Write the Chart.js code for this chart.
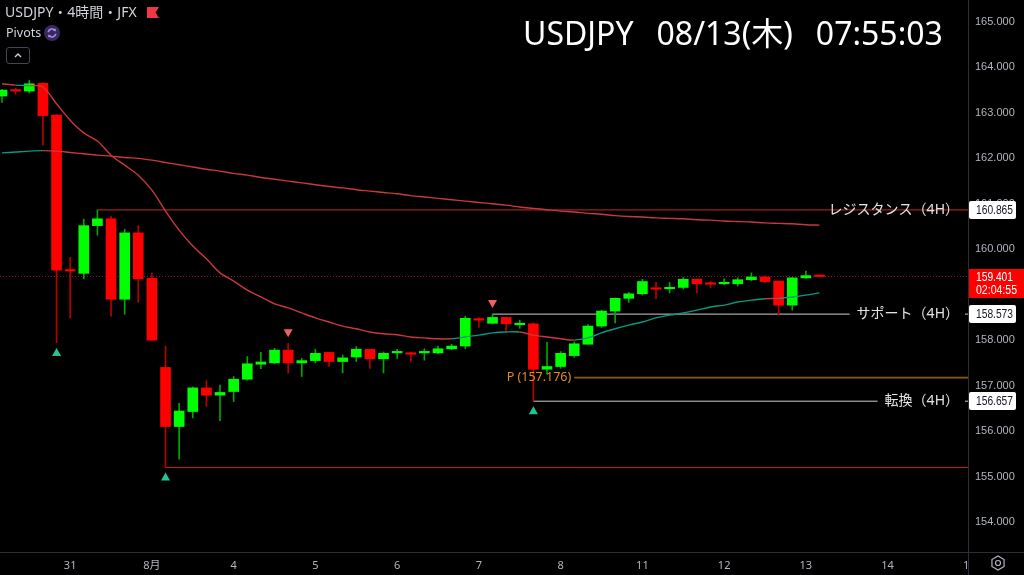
<!DOCTYPE html>
<html lang="ja">
<head>
<meta charset="utf-8">
<title>USDJPY 4時間 JFX</title>
<script src="https://cdn.jsdelivr.net/npm/chart.js@4.4.1/dist/chart.umd.min.js"></script>
<style>
  html, body { margin: 0; padding: 0; background: #000; overflow: hidden; }
  #wrap { position: relative; width: 1024px; height: 575px; }
  #chart { position: absolute; left: 0; top: 0; }
  .hdr { position: absolute; color: #d1d4dc; white-space: nowrap;
         font-family: "Noto Sans", "Noto Sans CJK JP", sans-serif; }
  #sym { left: 5px; top: 2px; font-size: 14px; line-height: 20px; }
  #flag { position: absolute; left: 147px; top: 7px; }
  #piv { left: 6px; top: 24px; font-size: 12.5px; line-height: 18px; }
  #pivIcon { position: absolute; left: 44px; top: 25px; }
  #collapse { position: absolute; left: 6px; top: 47px; width: 24px; height: 17px;
              border: 1px solid #434651; border-radius: 3px; box-sizing: border-box; }
  #title { left: 523px; top: 11px; font-size: 32px; line-height: 44px; color: #fff; }
  #title span + span { margin-left: 23px; }
</style>
</head>
<body>
<div id="wrap">
  <canvas id="chart" width="1024" height="575"></canvas>
  <div class="hdr" id="sym">USDJPY・4時間・JFX</div>
  <svg id="flag" width="12" height="11" viewBox="0 0 12 11"><path d="M0 0 H12 L8.5 5.5 L12 11 H0 Z" fill="#f23645"/></svg>
  <div class="hdr" id="piv">Pivots</div>
  <svg id="pivIcon" width="16" height="16" viewBox="0 0 16 16">
    <circle cx="8" cy="8" r="8" fill="#3a2a5c"/>
    <path d="M4.2 7.2 A4 4 0 0 1 11.2 5.4" stroke="#a98bf5" stroke-width="1.6" fill="none"/>
    <path d="M11.8 8.8 A4 4 0 0 1 4.8 10.6" stroke="#a98bf5" stroke-width="1.6" fill="none"/>
    <path d="M11.9 3.6 L11.6 6.6 L8.9 5.4 Z" fill="#a98bf5"/>
    <path d="M4.1 12.4 L4.4 9.4 L7.1 10.6 Z" fill="#a98bf5"/>
  </svg>
  <div id="collapse"><svg width="22" height="15" viewBox="0 0 22 15"><path d="M8 9 L11 6 L14 9" stroke="#d1d4dc" stroke-width="1.4" fill="none"/></svg></div>
  <div class="hdr" id="title"><span>USDJPY</span><span>08/13(木)</span><span>07:55:03</span></div>
</div>
<script>
// 4H candles, index 0 = first visible bar
const opens  = [163.37, 163.50, 163.48, 163.65, 162.95, 159.55, 159.47, 160.52, 160.67, 158.90,
                160.36, 159.36, 157.40, 156.10, 156.43, 156.95, 156.79, 156.87, 157.14, 157.47,
                157.50, 157.78, 157.50, 157.55, 157.73, 157.53, 157.63, 157.80, 157.59, 157.72,
                157.71, 157.72, 157.72, 157.81, 157.87, 158.47, 158.37, 158.50, 158.34, 158.36,
                157.36, 157.42, 157.66, 157.91, 158.31, 158.64, 158.92, 159.02, 159.15, 159.13,
                159.16, 159.34, 159.25, 159.24, 159.24, 159.33, 159.39, 159.30, 158.77, 159.37,
                159.41];
const highs  = [163.52, 163.54, 163.72, 163.66, 162.96, 159.82, 160.66, 160.865, 160.73, 160.44,
                160.52, 159.48, 157.87, 156.61, 156.97, 157.11, 157.01, 157.20, 157.64, 157.73,
                157.82, 157.93, 157.60, 157.80, 157.73, 157.67, 157.86, 157.80, 157.74, 157.80,
                157.73, 157.81, 157.87, 157.91, 158.53, 158.49, 158.573, 158.51, 158.44, 158.38,
                157.95, 157.75, 157.96, 158.34, 158.66, 158.93, 159.05, 159.34, 159.28, 159.27,
                159.38, 159.34, 159.30, 159.35, 159.37, 159.48, 159.41, 159.30, 159.38, 159.52,
                159.43];
const lows   = [163.23, 163.41, 163.44, 162.29, 157.94, 158.49, 159.35, 160.31, 158.53, 158.57,
                158.83, 157.99, 155.20, 155.38, 156.29, 156.54, 156.23, 156.65, 157.12, 157.37,
                157.48, 157.28, 157.20, 157.50, 157.42, 157.28, 157.53, 157.38, 157.28, 157.60,
                157.53, 157.56, 157.70, 157.79, 157.81, 158.28, 158.36, 158.19, 158.26, 156.657,
                157.25, 157.38, 157.62, 157.91, 158.28, 158.38, 158.83, 158.99, 158.91, 159.04,
                159.12, 159.04, 159.15, 159.22, 159.19, 159.31, 159.26, 158.55, 158.66, 159.36,
                159.39];
const closes = [163.50, 163.48, 163.64, 162.94, 159.54, 159.52, 160.52, 160.67, 158.90, 160.36,
                159.35, 158.00, 156.10, 156.44, 156.95, 156.79, 156.85, 157.14, 157.48, 157.52,
                157.78, 157.50, 157.55, 157.71, 157.53, 157.61, 157.80, 157.59, 157.71, 157.74,
                157.69, 157.73, 157.81, 157.87, 158.48, 158.44, 158.50, 158.36, 158.36, 157.36,
                157.42, 157.71, 157.92, 158.31, 158.64, 158.92, 159.02, 159.29, 159.12, 159.16,
                159.34, 159.24, 159.23, 159.26, 159.33, 159.39, 159.29, 158.77, 159.37, 159.42,
                159.401];

// moving averages
const maShort = [163.64, 163.61, 163.60, 163.57, 163.20, 162.84, 162.56, 162.38, 162.07, 161.85,
                 161.63, 161.30, 160.84, 160.42, 160.07, 159.79, 159.48, 159.30, 159.10, 158.95,
                 158.80, 158.71, 158.60, 158.49, 158.40, 158.31, 158.25, 158.18, 158.14, 158.12,
                 158.07, 158.05, 158.03, 158.03, 158.07, 158.11, 158.16, 158.18, 158.18, 158.11,
                 158.07, 158.03, 158.00, 158.05, 158.16, 158.25, 158.33, 158.40, 158.49, 158.55,
                 158.60, 158.66, 158.73, 158.77, 158.84, 158.88, 158.91, 158.92, 158.95, 158.99,
                 159.04];
const maLong  = [162.12, 162.14, 162.16, 162.17, 162.16, 162.13, 162.10, 162.07, 162.05, 162.02,
                 162.00, 161.96, 161.91, 161.86, 161.81, 161.76, 161.72, 161.67, 161.63, 161.58,
                 161.54, 161.50, 161.46, 161.42, 161.38, 161.35, 161.31, 161.28, 161.25, 161.22,
                 161.18, 161.15, 161.12, 161.09, 161.06, 161.03, 161.00, 160.97, 160.93, 160.90,
                 160.87, 160.84, 160.82, 160.79, 160.77, 160.74, 160.72, 160.71, 160.69, 160.68,
                 160.67, 160.65, 160.64, 160.62, 160.61, 160.60, 160.58, 160.57, 160.56, 160.54,
                 160.53];

// time axis: first bar of each day
const dayLabels = ['31', '8月', '4', '5', '6', '7', '8', '11', '12', '13', '14', '15'];
const dayIdx    = [5, 11, 17, 23, 29, 35, 41, 47, 53, 59, 65, 71];
const priceTicks = [154, 155, 156, 157, 158, 159, 160, 161, 162, 163, 164, 165];

// horizontal levels
const resistance = 160.865, resistanceFrom = 7;
const support = 158.573,    supportFrom = 36;
const pivotP = 157.176,     pivotFrom = 42;
const turn = 156.657,       turnFrom = 39;
const lowLine = 155.20,     lowLineFrom = 12;
const lastPrice = 159.401;
const countdown = '02:04:55';

// fractal markers
const pivotLowIdx  = [4, 12, 39];
const pivotHighIdx = [21, 36];

const X_MIN = -0.15, X_MAX = 70.9;
const Y_MIN = 153.339, Y_MAX = 165.484;

const UP = '#00ff00', DOWN = '#ff0000';
const UP_WICK = '#00a800', DOWN_WICK = '#b80000';
const MA_UP = '#089981', MA_DN = '#c8383c';
const FONT = '"Noto Sans", "Noto Sans CJK JP", sans-serif';
const NUM_FONT = '"Liberation Sans", Arial, sans-serif';

const isUp = i => closes[i] >= opens[i];
const hline = (v, from, color, width, dash) => ({
  type: 'line', data: [{ x: from, y: v }, { x: X_MAX, y: v }],
  borderColor: color, borderWidth: width, borderDash: dash || [],
  pointRadius: 0, order: 3,
});
const maSet = (vals) => ({
  type: 'line',
  data: vals.map((v, i) => ({ x: i, y: v })),
  borderWidth: 1.4, pointRadius: 0, tension: 0.3, order: 0,
  borderColor: MA_DN,
  segment: { borderColor: c => closes[c.p1DataIndex] >= vals[c.p1DataIndex] ? MA_UP : MA_DN },
});

// draw text squeezed to a given width
function fitText(ctx, text, x, y, w) {
  const m = ctx.measureText(text).width;
  ctx.save();
  ctx.translate(x, y);
  ctx.scale(Math.min(1, w / m), 1);
  ctx.fillText(text, 0, 0);
  ctx.restore();
}

const overlay = {
  id: 'overlay',
  afterDraw(chart) {
    const { ctx, chartArea: a, scales: { x, y } } = chart;
    ctx.save();

    // pane separators
    ctx.strokeStyle = '#2a2e39';
    ctx.lineWidth = 1;
    ctx.beginPath();
    ctx.moveTo(0, a.bottom + 0.5); ctx.lineTo(chart.width, a.bottom + 0.5);
    ctx.moveTo(a.right + 0.5, 0); ctx.lineTo(a.right + 0.5, chart.height);
    ctx.stroke();
    // clip the date label that runs under the price scale
    ctx.fillStyle = '#000';
    ctx.fillRect(a.right + 1, a.bottom + 1, chart.width - a.right, chart.height - a.bottom);

    // fractal triangles
    ctx.fillStyle = '#22c493';
    pivotLowIdx.forEach(i => {
      const px = x.getPixelForValue(i), py = y.getPixelForValue(lows[i]) + 9;
      ctx.beginPath(); ctx.moveTo(px, py - 4); ctx.lineTo(px + 4.5, py + 4); ctx.lineTo(px - 4.5, py + 4); ctx.fill();
    });
    ctx.fillStyle = '#f26060';
    pivotHighIdx.forEach(i => {
      const px = x.getPixelForValue(i), py = y.getPixelForValue(highs[i]) - 10;
      ctx.beginPath(); ctx.moveTo(px - 4.5, py - 4); ctx.lineTo(px + 4.5, py - 4); ctx.lineTo(px, py + 4); ctx.fill();
    });

    // level captions
    ctx.textBaseline = 'middle';
    ctx.textAlign = 'right';
    ctx.font = '14px ' + FONT;
    const capRight = 959;
    const cap = (text, v, gap) => {
      const py = y.getPixelForValue(v);
      const w = ctx.measureText(text).width;
      if (gap) { ctx.fillStyle = '#000'; ctx.fillRect(capRight - w - 7, py - 3, w + 13, 6); }
      ctx.fillStyle = '#e4e4e4';
      ctx.fillText(text, capRight, py);
    };
    cap('レジスタンス（4H）', resistance, false);
    cap('サポート（4H）', support, true);
    cap('転換（4H）', turn, true);
    ctx.font = '12.5px ' + FONT;
    ctx.fillStyle = '#e08b25';
    ctx.fillText('P (' + pivotP.toFixed(3) + ')', x.getPixelForValue(pivotFrom) - 3, y.getPixelForValue(pivotP));

    // price scale badges
    ctx.textAlign = 'left';
    ctx.font = '12px ' + NUM_FONT;
    const badge = (v) => {
      const py = Math.round(y.getPixelForValue(v));
      ctx.fillStyle = '#fff';
      ctx.beginPath(); ctx.roundRect(a.right + 1, py - 9, 47, 18, 2); ctx.fill();
      ctx.fillStyle = '#131722';
      fitText(ctx, v.toFixed(3), a.right + 8, py + 0.5, 37);
    };
    badge(resistance);
    badge(support);
    badge(turn);
    const py = Math.round(y.getPixelForValue(lastPrice));
    ctx.fillStyle = '#ff0000';
    ctx.fillRect(a.right + 1, py - 7, chart.width - a.right, 29);
    ctx.fillStyle = '#fff';
    fitText(ctx, lastPrice.toFixed(3), a.right + 8, py + 1.5, 37);
    fitText(ctx, countdown, a.right + 8, py + 14.5, 41);

    // settings gear
    const cx = 998, cy = 563, r = 7;
    ctx.strokeStyle = '#b2b5be';
    ctx.lineWidth = 1.2;
    ctx.beginPath();
    for (let k = 0; k < 6; k++) {
      const ang = Math.PI / 6 + k * Math.PI / 3;
      const qx = cx + r * Math.cos(ang), qy = cy + r * Math.sin(ang);
      k ? ctx.lineTo(qx, qy) : ctx.moveTo(qx, qy);
    }
    ctx.closePath(); ctx.stroke();
    ctx.beginPath(); ctx.arc(cx, cy, 2.5, 0, Math.PI * 2); ctx.stroke();
    ctx.restore();
  }
};

new Chart(document.getElementById('chart'), {
  type: 'bar',
  data: {
    datasets: [
      maSet(maShort),
      maSet(maLong),
      {
        label: 'body',
        data: opens.map((o, i) => ({ x: i, y: [o, closes[i]] })),
        backgroundColor: opens.map((o, i) => isUp(i) ? UP : DOWN),
        barThickness: 10, minBarLength: 1.5, grouped: false, order: 1,
      },
      {
        label: 'wick',
        data: highs.map((h, i) => ({ x: i, y: [lows[i], h] })),
        backgroundColor: highs.map((h, i) => isUp(i) ? UP_WICK : DOWN_WICK),
        barThickness: 1, grouped: false, order: 2,
      },
      hline(resistance, resistanceFrom, '#c62828', 1),
      hline(support, supportFrom, '#cfcfcf', 1),
      hline(pivotP, pivotFrom, '#8f5a16', 1.6),
      hline(turn, turnFrom, '#cfcfcf', 1),
      hline(lowLine, lowLineFrom, '#c62828', 1),
      hline(lastPrice, X_MIN, '#8a1a1a', 1, [1, 2]),
    ],
  },
  options: {
    responsive: false,
    animation: false,
    layout: { padding: 0 },
    plugins: { legend: { display: false }, tooltip: { enabled: false } },
    scales: {
      x: {
        type: 'linear', min: X_MIN, max: X_MAX, offset: false,
        grid: { display: false, drawTicks: false }, border: { display: false },
        afterBuildTicks: s => { s.ticks = dayIdx.map(v => ({ value: v })); },
        afterFit: s => { s.height = 23; s.paddingLeft = 0; s.paddingRight = 0; },
        ticks: {
          autoSkip: false, maxRotation: 0, padding: 7, color: '#b2b5be',
          font: { size: 11, family: FONT },
          callback: (v, i) => dayLabels[i],
        },
      },
      y: {
        type: 'linear', position: 'right', min: Y_MIN, max: Y_MAX,
        grid: { display: false, drawTicks: false }, border: { display: false },
        afterBuildTicks: s => { s.ticks = priceTicks.map(v => ({ value: v })); },
        afterFit: s => { s.width = 56; s.paddingTop = 0; s.paddingBottom = 0; },
        ticks: {
          padding: 7, color: '#b2b5be', font: { size: 11, family: NUM_FONT },
          callback: v => v.toFixed(3),
        },
      },
    },
  },
  plugins: [overlay],
});
</script>
</body>
</html>
